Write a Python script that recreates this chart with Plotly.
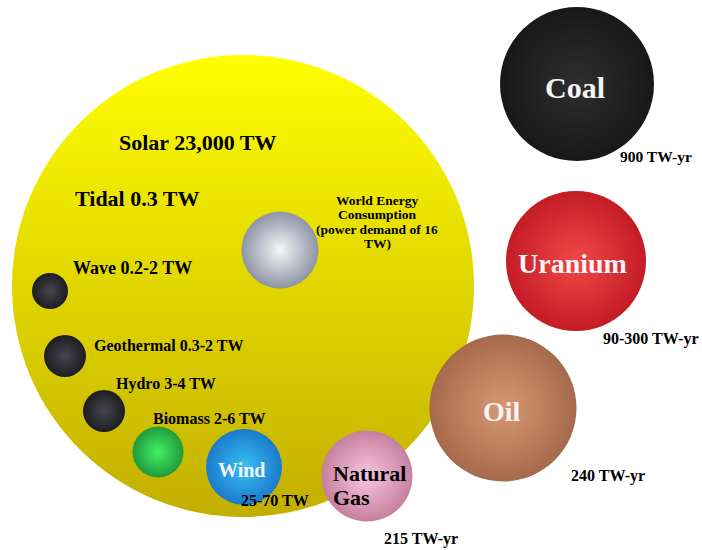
import plotly.graph_objects as go

# ---- data ----
sources = ["Solar", "World Energy Consumption", "Wave", "Geothermal", "Hydro",
           "Biomass", "Wind", "Natural Gas", "Oil", "Uranium", "Coal"]
amounts = ["23,000 TW", "16 TW", "0.2-2 TW", "0.3-2 TW", "3-4 TW",
           "2-6 TW", "25-70 TW", "215 TW-yr", "240 TW-yr", "90-300 TW-yr", "900 TW-yr"]
tidal_label = "Tidal 0.3 TW"

# ---- layout of the bubbles (pixel-like axis units) ----
cx = [243, 280, 50, 65, 104, 158, 244, 367, 503, 576, 577]
cy = [286, 250, 291, 356, 411, 452, 467, 476, 408, 261, 84]
diam = [462, 77, 36, 42, 42, 51, 76, 91, 147, 140, 154]
edge_col = ["#FFFF00", "#8E94A6", "#1C1C22", "#1C1C22", "#1C1C22", "#1F9A3C",
            "#1C7ACC", "#C6809F", "#A56A4C", "#C41C26", "#181818"]
center_col = ["#C2AE00", "#F6F6F6", "#46464C", "#46464C", "#46464C", "#44F066",
              "#38C0F4", "#F8C6E2", "#D99873", "#F24848", "#2E2E2E"]
grad_type = ["vertical"] + ["radial"] * 10

fig = go.Figure()
for i, s in enumerate(sources):
    fig.add_trace(go.Scatter(
        x=[cx[i]], y=[cy[i]], mode="markers", name=s, hoverinfo="skip",
        marker=dict(size=diam[i], sizemode="diameter", color=edge_col[i],
                    gradient=dict(type=grad_type[i], color=center_col[i]),
                    line=dict(width=0), opacity=1),
    ))

FONT = "Liberation Serif"

def label(x, y, text, size, color="black", xanchor="center"):
    fig.add_annotation(x=x, y=y, xref="x", yref="y", text="<b>" + text + "</b>",
                       showarrow=False, xanchor=xanchor, yanchor="middle",
                       font=dict(family=FONT, size=size, color=color))

label(198, 142, sources[0] + " " + amounts[0], 22)
label(137, 198, tidal_label, 22)
world_lines = ["World Energy", "Consumption", "(power demand of " + amounts[1].split()[0], "TW)"]
for j, ln in enumerate(world_lines):
    label(377, 200 + j * 14.6, ln, 13.5)
label(132, 268, sources[2] + " " + amounts[2], 18)
label(168, 345, sources[3] + " " + amounts[3], 16)
label(166, 384, sources[4] + " " + amounts[4], 16)
label(209, 418, sources[5] + " " + amounts[5], 16)
label(241, 470, sources[6], 20, color="#F4F4F4")
label(275, 500, amounts[6], 16)
for j, w in enumerate(sources[7].split()):
    label(331, 473 + j * 24, w, 22, xanchor="left")
label(421, 539, amounts[7], 16)
label(502, 411, sources[8], 28, color="#F4F4F4")
label(608, 476, amounts[8], 16)
label(572, 263, sources[9], 28, color="#F4F4F4")
label(651, 339, amounts[9], 16)
label(575, 87, sources[10], 30, color="#F4F4F4")
label(656, 156, amounts[10], 15.5)

fig.update_layout(
    width=702, height=550, autosize=False,
    margin=dict(l=0, r=0, t=0, b=0),
    paper_bgcolor="white", plot_bgcolor="white",
    showlegend=False, hovermode=False,
    xaxis=dict(range=[0, 702], visible=False, fixedrange=True),
    yaxis=dict(range=[550, 0], visible=False, fixedrange=True),
)
fig.write_html(
    "out.html",
    config={"displayModeBar": False, "staticPlot": True},
    post_script="document.body.style.margin='0';document.body.style.overflow='hidden';",
)
